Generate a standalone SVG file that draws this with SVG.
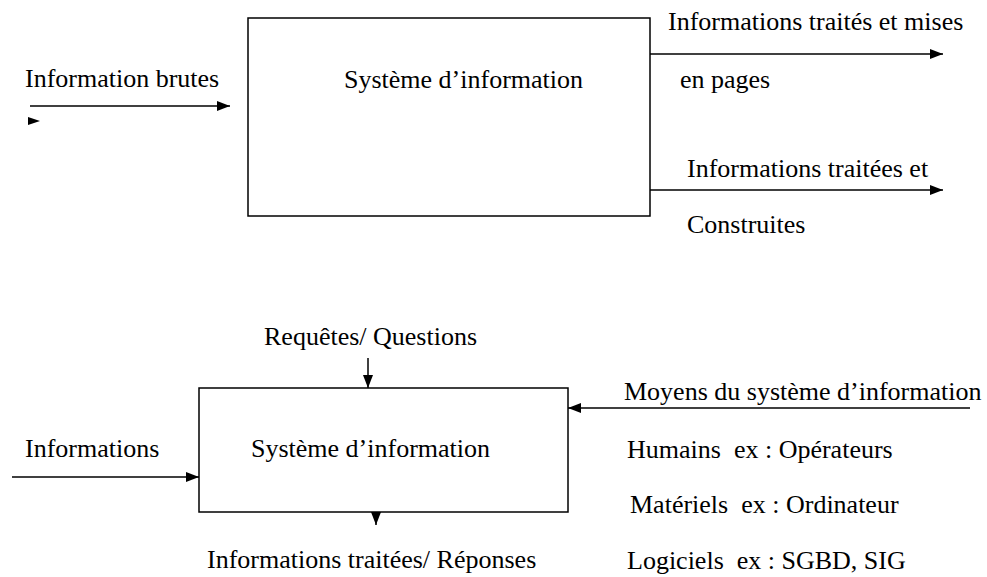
<svg xmlns="http://www.w3.org/2000/svg" width="987" height="577" viewBox="0 0 987 577">
<defs>
<marker id="ah" markerWidth="13" markerHeight="10" refX="13" refY="5" orient="auto" markerUnits="userSpaceOnUse">
<path d="M0,0 L13,5 L0,10 Z" fill="#000"/>
</marker>
<style>
text{font-family:"Liberation Serif","Times New Roman",serif;font-size:26px;fill:#000}
.box{fill:#fff;stroke:#000;stroke-width:1.5}
.ln{stroke:#000;stroke-width:1.5;fill:none}
</style>
</defs>
<rect width="987" height="577" fill="#fff"/>
<g id="node-si1">
<rect class="box" x="248" y="18" width="402" height="198"/>
<text x="344" y="88">Système d’information</text>
</g>
<g id="node-si2">
<rect class="box" x="199" y="388" width="369" height="124"/>
<text x="251" y="457">Système d’information</text>
</g>
<g id="labels">
<text x="25" y="87">Information brutes</text>
<text x="668" y="30">Informations traités et mises</text>
<text x="680" y="88">en pages</text>
<text x="687" y="177">Informations traitées et</text>
<text x="687" y="233">Construites</text>
<text x="264" y="345">Requêtes/ Questions</text>
<text x="624" y="400">Moyens du système d’information</text>
<text x="627" y="458" xml:space="preserve">Humains  ex : Opérateurs</text>
<text x="630" y="513" xml:space="preserve">Matériels  ex : Ordinateur</text>
<text x="627" y="569" xml:space="preserve">Logiciels  ex : SGBD, SIG</text>
<text x="25" y="457">Informations</text>
<text x="207" y="568">Informations traitées/ Réponses</text>
</g>
<g id="connectors">
<line class="ln" x1="30" y1="106" x2="230" y2="106" marker-end="url(#ah)"/>
<path d="M28,117 L40,121 L28,125 Z" fill="#000"/>
<line class="ln" x1="650" y1="54" x2="943" y2="54" marker-end="url(#ah)"/>
<line class="ln" x1="650" y1="190" x2="943" y2="190" marker-end="url(#ah)"/>
<line class="ln" x1="368" y1="358" x2="368" y2="388" marker-end="url(#ah)"/>
<line class="ln" x1="970" y1="408" x2="568" y2="408" marker-end="url(#ah)"/>
<line class="ln" x1="12" y1="477" x2="199" y2="477" marker-end="url(#ah)"/>
<line class="ln" x1="376" y1="512" x2="376" y2="525" marker-end="url(#ah)"/>
</g>
</svg>
